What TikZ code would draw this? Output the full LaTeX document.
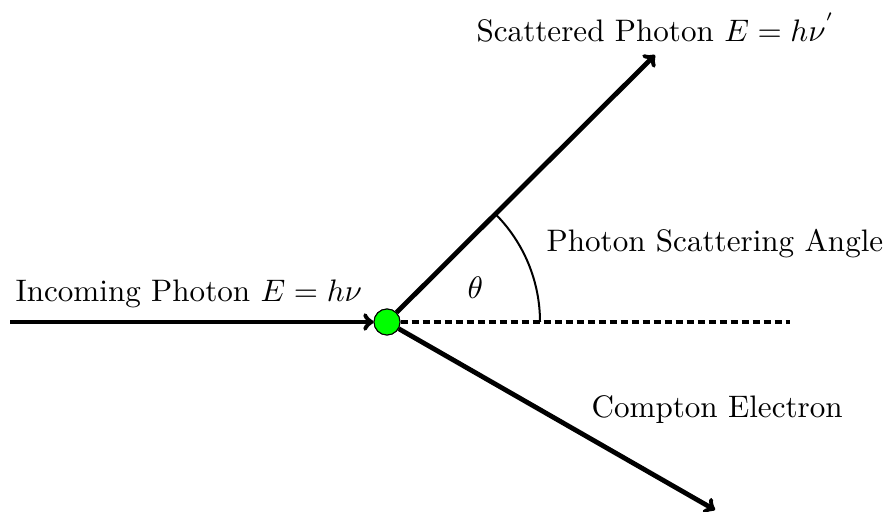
\documentclass[tikz,border=0pt]{standalone}
\begin{document}
\begin{tikzpicture}[x=1pt,y=1pt,
  lbl/.style={inner sep=0pt, anchor=base west, scale=3.11, transform shape},
  ray/.style={line width=4.8pt,->},
  dot/.style={circle,draw=black,line width=1pt,fill=green,minimum size=26pt,inner sep=0pt}]
\useasboundingbox (0,0) rectangle (885,511);
\node[dot] (e) at (387,189) {};
\coordinate (in) at (10,189);
\coordinate (ph) at (655,456);
\coordinate (el) at (715,1);
\coordinate (de) at (790,189);
\draw[ray] (in) -- (e);
\draw[ray] (e) -- (ph);
\draw[ray] (e) -- (el);
\draw[line width=4.8pt,dash pattern=on 7pt off 4pt] (e) -- (de);
\draw[line width=2pt] (e.center) ++(153,0) arc[start angle=0,end angle=45,radius=153];
\node[dot] at (e) {};
\node[lbl] (t1) at (15,209) {Incoming Photon $E=h\nu$};
\node[lbl] (t2) at (476,469) {Scattered Photon $E=h\nu^{'}$};
\node[lbl] (t3) at (546,259) {Photon Scattering Angle};
\node[lbl] (t4) at (467,212) {$\theta$};
\node[lbl] (t5) at (591,93) {Compton Electron};
\end{tikzpicture}
\end{document}
